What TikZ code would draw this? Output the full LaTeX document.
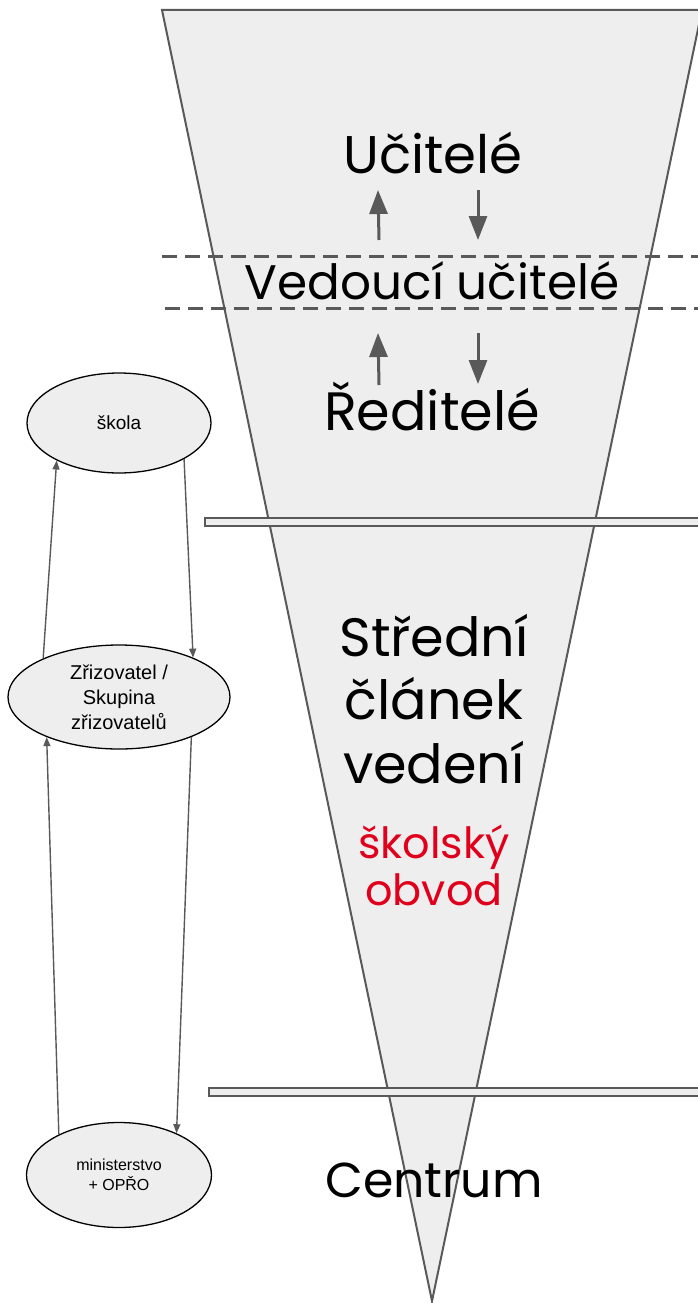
\documentclass[tikz,border=0pt]{standalone}
\usepackage{fontspec}
\usetikzlibrary{arrows.meta,shapes.geometric}
\newfontfamily\bigfont{Poppins}
\newfontfamily\arialfont{Liberation Sans}
\definecolor{linegray}{HTML}{595959}
\definecolor{fillgray}{HTML}{EEEEEE}
\definecolor{redtext}{RGB}{224,0,27}
\begin{document}
\begin{tikzpicture}[x=1pt,y=-1pt,
  bigtext/.style={inner sep=0pt,anchor=base,font=\bigfont\fontsize{#1}{#1}\selectfont},
  bigtext/.default=50,
  redlabel/.style={inner sep=0pt,anchor=base,text=redtext,font=\bigfont\fontsize{43}{46}\selectfont},
  flowarrow/.style={draw=linegray,line width=3pt,-{Triangle[length=24pt,width=18pt]}},
  dashline/.style={draw=linegray,line width=3pt,dash pattern=on 15pt off 8pt},
  barbox/.style={draw=linegray,fill=fillgray,line width=2pt},
  ell/.style={ellipse,draw=black,fill=fillgray,line width=1.3pt,inner sep=0pt,align=center,font=\arialfont},
  sidearrow/.style={draw=linegray,line width=1.4pt,-{Triangle[length=9pt,width=7pt]}}
]
\useasboundingbox (0,0) rectangle (697,1303);
% funnel
\draw[draw=linegray,fill=fillgray,line width=2pt,line join=miter] (162,10) -- (702,10) -- (432,1301) -- cycle;
% dashed lines
\draw[dashline] (162,256) -- (705,256);
\draw[dashline] (165,308) -- (705,308);
% bars
\draw[barbox] (205,518) rectangle (705,526);
\draw[barbox] (209,1088) rectangle (705,1096);
% labels in funnel
\node[bigtext=53] (ucitele) at (433,173) {Učitelé};
\node[bigtext=48.5] (vedouci) at (432,299) {Vedoucí učitelé};
\node[bigtext=54] (reditele) at (432,430) {Ředitelé};
\node[bigtext=54] (st1) at (434,656) {Střední};
\node[bigtext=54] (st2) at (434,719) {článek};
\node[bigtext=54] (st3) at (434,783) {vedení};
\node[redlabel] (sk1) at (434,858) {školský};
\node[redlabel] (sk2) at (434,905) {obvod};
\node[bigtext=49] (centrum) at (434,1197) {Centrum};
% arrows in funnel
\coordinate (a1s) at (379,240); \coordinate (a1e) at (378,190);
\coordinate (a2s) at (478,190); \coordinate (a2e) at (478,240);
\coordinate (a3s) at (379,385); \coordinate (a3e) at (378,333);
\coordinate (a4s) at (478,333); \coordinate (a4e) at (478,384);
\draw[flowarrow] (a1s) -- (a1e);
\draw[flowarrow] (a2s) -- (a2e);
\draw[flowarrow] (a3s) -- (a3e);
\draw[flowarrow] (a4s) -- (a4e);
% ellipses
\node[ell,minimum width=184pt,minimum height=100pt,font=\arialfont\fontsize{19}{22}\selectfont] (skola) at (119,423) {škola};
\node[ell,minimum width=222pt,minimum height=104pt,font=\arialfont\fontsize{20}{25}\selectfont] (zriz) at (119,697) {Zřizovatel /\\Skupina\\zřizovatelů};
\node[ell,minimum width=185pt,minimum height=105pt,font=\arialfont\fontsize{16}{20}\selectfont] (min) at (119,1175) {ministerstvo\\+ OPŘO};
% side arrows
\draw[sidearrow] (skola.-29) -- (zriz.28);
\draw[sidearrow] (zriz.153) -- (skola.-149);
\draw[sidearrow] (zriz.-29) -- (min.36);
\draw[sidearrow] (min.146) -- (zriz.-151);
\end{tikzpicture}
\end{document}
